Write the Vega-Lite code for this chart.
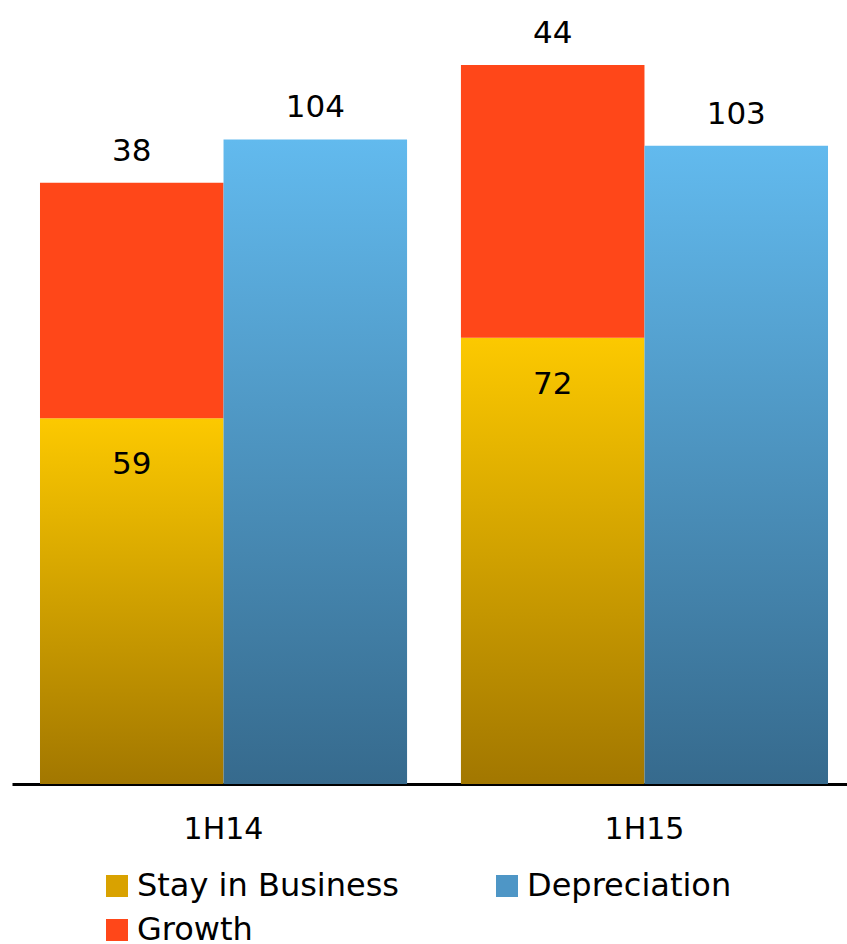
{
  "$schema": "https://vega.github.io/schema/vega-lite/v6.json",
  "autosize": "none",
  "width": 835,
  "height": 784,
  "padding": {"left": 12, "top": 0, "right": 0, "bottom": 160},
  "background": "white",
  "config": {"view": {"stroke": null}, "font": "DejaVu Sans"},
  "data": {
    "values": [
      {"period": "1H14", "col": "Capex", "series": "Stay in Business", "value": 59},
      {"period": "1H14", "col": "Capex", "series": "Growth", "value": 38},
      {"period": "1H14", "col": "Depreciation", "series": "Depreciation", "value": 104},
      {"period": "1H15", "col": "Capex", "series": "Stay in Business", "value": 72},
      {"period": "1H15", "col": "Capex", "series": "Growth", "value": 44},
      {"period": "1H15", "col": "Depreciation", "series": "Depreciation", "value": 103}
    ]
  },
  "transform": [
    {"stack": "value", "groupby": ["period", "col"], "sort": [{"field": "series", "order": "descending"}], "as": ["v0", "v1"]}
  ],
  "encoding": {
    "x": {
      "field": "period", "type": "nominal",
      "scale": {"paddingInner": 0.128, "paddingOuter": 0.0665, "range": [0, 844]},
      "axis": {
        "title": null, "labelAngle": 0, "labelFontSize": 30, "labelColor": "black",
        "labelPadding": 30, "ticks": false, "domainColor": "black", "domainWidth": 3
      }
    },
    "xOffset": {"field": "col", "type": "nominal", "scale": {"paddingInner": 0, "paddingOuter": 0}},
    "y": {"field": "v1", "type": "quantitative", "scale": {"domain": [0, 126.5], "nice": false}, "axis": null}
  },
  "layer": [
    {
      "mark": {"type": "square", "opacity": 0},
      "encoding": {
        "color": {
          "field": "series", "type": "nominal",
          "scale": {
            "domain": ["Stay in Business", "Depreciation", "Growth"],
            "range": ["#D9A200", "#4E96C6", "#FF4719"]
          },
          "legend": {
            "title": null, "orient": "none", "legendX": 89, "legendY": 870,
            "columns": 2, "direction": "horizontal",
            "symbolType": "square", "symbolSize": 484, "symbolStrokeWidth": 0, "symbolOpacity": 1,
            "labelFontSize": 32, "labelColor": "black", "labelOffset": 4,
            "columnPadding": 91, "rowPadding": 12, "labelLimit": 400
          }
        }
      }
    },
    {
      "transform": [{"filter": "datum.series === 'Stay in Business'"}],
      "mark": {"type": "bar", "color": {"gradient": "linear", "x1": 0, "y1": 0, "x2": 0, "y2": 1, "stops": [{"offset": 0, "color": "#FCC900"}, {"offset": 1, "color": "#A27700"}]}},
      "encoding": {"y2": {"field": "v0"}}
    },
    {
      "transform": [{"filter": "datum.series === 'Growth'"}],
      "mark": {"type": "bar", "color": "#FF4719"},
      "encoding": {"y2": {"field": "v0"}}
    },
    {
      "transform": [{"filter": "datum.series === 'Depreciation'"}],
      "mark": {"type": "bar", "color": {"gradient": "linear", "x1": 0, "y1": 0, "x2": 0, "y2": 1, "stops": [{"offset": 0, "color": "#62BAEE"}, {"offset": 1, "color": "#366A8D"}]}},
      "encoding": {"y2": {"field": "v0"}}
    },
    {
      "transform": [{"filter": "datum.series !== 'Stay in Business'"}],
      "mark": {"type": "text", "fontSize": 31, "dy": -22, "baseline": "alphabetic", "color": "black"},
      "encoding": {"text": {"field": "value", "type": "quantitative"}}
    },
    {
      "transform": [{"filter": "datum.series === 'Stay in Business'"}],
      "mark": {"type": "text", "fontSize": 31, "dy": 56, "baseline": "alphabetic", "color": "black"},
      "encoding": {"text": {"field": "value", "type": "quantitative"}}
    }
  ]
}
